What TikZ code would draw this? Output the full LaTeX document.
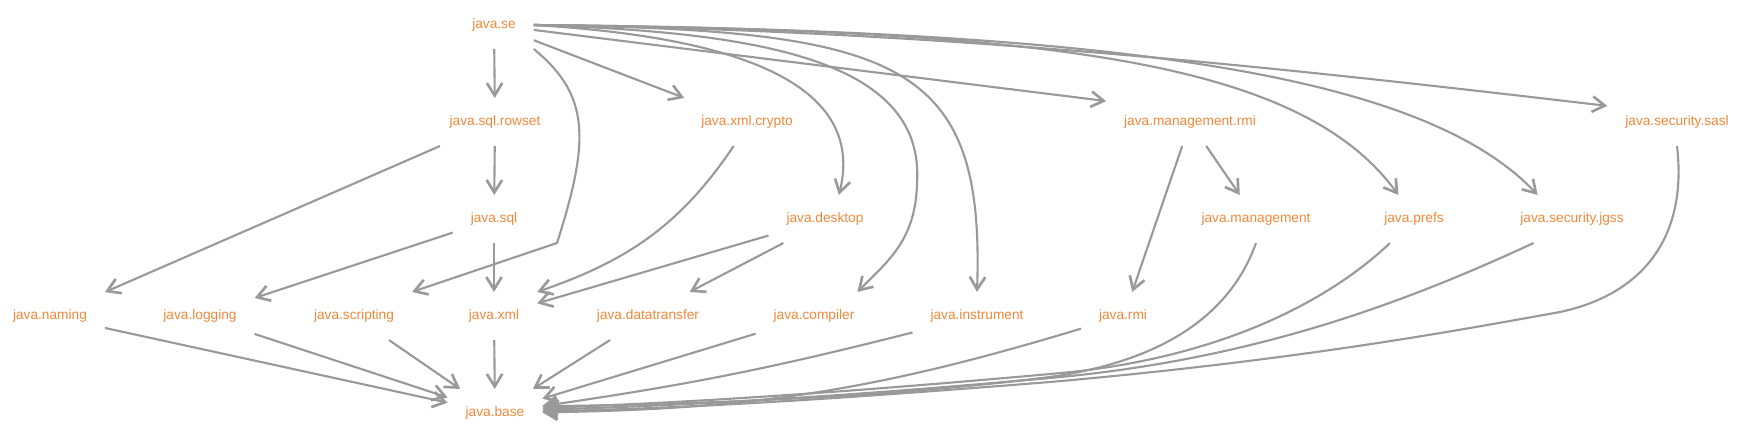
\documentclass[tikz,border=0pt]{standalone}
\usepackage{fontspec}
\setmainfont{Liberation Sans}
\usetikzlibrary{arrows.meta}
\definecolor{corange}{HTML}{F0883A}
\definecolor{cedge}{HTML}{999999}
\tikzset{
  every picture/.style={line width=1.2pt},
  mod/.style={text=corange, font=\fontsize{7.8}{9}\selectfont, inner xsep=0.34cm, inner ysep=0pt, minimum height=0.92cm},
  dep/.style={draw=cedge, -{Straight Barb[length=2.5mm, width=3.1mm, line width=1.5pt]}},
}

\begin{document}
\begin{tikzpicture}[x=0.02cm, y=-0.02cm]
  \useasboundingbox (0,0) rectangle (1747,428);
  % modules, one row per level
  \foreach \nm/\px/\py/\lbl in {
    se/494/25/java.se,
    rowset/495/122/java.sql.rowset, crypto/747/122/java.xml.crypto,
    mrmi/1190/122/java.management.rmi, sasl/1677/122/java.security.sasl,
    sql/494/219/java.sql, desktop/825/219/java.desktop,
    management/1256/219/java.management, prefs/1414/219/java.prefs,
    jgss/1572/219/java.security.jgss,
    naming/50/316/java.naming, logging/200/316/java.logging,
    scripting/354/316/java.scripting, xml/494/316/java.xml,
    datatransfer/648/316/java.datatransfer, compiler/814/316/java.compiler,
    instrument/977/316/java.instrument, rmi/1123/316/java.rmi,
    base/495/413/java.base}
    \node[mod] (\nm) at (\px,\py) {\lbl};
  % straight requires
  \foreach \a/\b in {se/rowset, se/crypto, rowset/sql, rowset/naming, sql/xml,
    sql/logging, desktop/xml, naming/base, logging/base, scripting/base,
    xml/base, datatransfer/base, compiler/base}
    \draw[dep] (\a) -- (\b);
  % java.se fans out to the right
  \draw[dep] (se) -- (mrmi.166);
  \draw[dep] (se.south east) .. controls (590,95) and (590,140) .. (557,243) -- (scripting.north east);
  \draw[dep] (se.east) .. controls (700,35) and (870,70) .. (desktop.60);
  \draw[dep] (se.east) .. controls (760,32) and (925,60) .. (917,183)
    .. controls (916,240) and (887,262) .. (compiler.29);
  \draw[dep] (se.east) .. controls (900,30) and (985,60) .. (instrument.north);
  \draw[dep] (se.east) .. controls (1050,30) and (1300,60) .. (prefs.123);
  \draw[dep] (se.east) .. controls (1100,30) and (1420,70) .. (jgss.145);
  \draw[dep] (se.east) .. controls (950,30) and (1300,70) .. (sasl.167);
  % middle rows
  \draw[dep] (crypto.241) to[out=236, in=19] (xml.north east);
  \draw[dep] (desktop.210) -- (datatransfer.30);
  \draw[dep] (mrmi.-56) -- (management.124);
  \draw[dep] (mrmi.252) -- (rmi.69);
  % everything ends in java.base
  \draw[dep] (instrument) to[bend left=3] (base);
  \draw[dep] (rmi) to[bend left=8] (base);
  \draw[dep] (management.south) .. controls (1232,310) and (1170,360) .. (1050,377)
    .. controls (880,398) and (700,404) .. (base.8);
  \draw[dep] (prefs.225) .. controls (1330,300) and (1220,360) .. (1050,374)
    .. controls (850,392) and (700,402) .. (base.6);
  \draw[dep] (jgss.212) .. controls (1400,305) and (1250,360) .. (1050,378)
    .. controls (850,396) and (700,405) .. (base.4);
  \draw[dep] (sasl.south) .. controls (1688,240) and (1640,295) .. (1560,312)
    .. controls (1460,330) and (1300,360) .. (1050,382)
    .. controls (850,398) and (700,408) .. (base.2);
\end{tikzpicture}
\end{document}
